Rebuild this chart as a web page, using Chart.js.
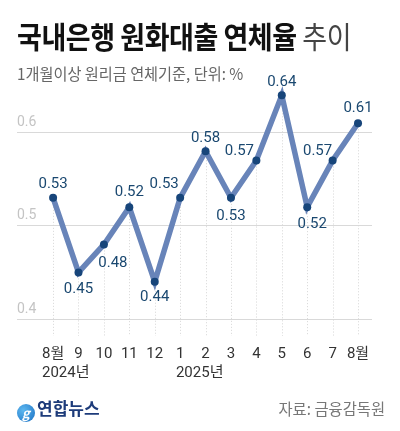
<!DOCTYPE html>
<html><head><meta charset="utf-8">
<script src="https://cdn.jsdelivr.net/npm/chart.js@4"></script>
<style>
html,body{margin:0;padding:0;background:#fff;}
#wrap{position:relative;width:400px;height:431px;overflow:hidden;font-family:"Noto Sans CJK KR",sans-serif;}
#c{position:absolute;left:0;top:0;}
.t{position:absolute;white-space:nowrap;line-height:1;transform-origin:left top;}
#title{left:17px;top:20px;font-size:30px;font-weight:700;color:#111;transform:scaleX(0.9);letter-spacing:-0.5px;}
#title span{font-weight:400;color:#444;}
#sub{left:17px;top:65px;font-size:16px;color:#666;transform:scaleX(0.95);}
#src{right:15px;top:400px;font-size:16px;color:#777;transform-origin:right top;transform:scaleX(0.96);}
#logo{left:17px;top:399px;font-size:17px;font-weight:700;color:#1d3b7a;}
#logo i{display:inline-block;width:18px;height:18px;border-radius:50%;background:radial-gradient(circle at 35% 35%,#5db8f0,#1a6fc2);vertical-align:-3px;margin-right:2px;color:#fff;font-style:italic;font-size:13px;text-align:center;line-height:18px;}
</style></head>
<body><div id="wrap">
<canvas id="c" width="400" height="431"></canvas>
<div class="t" id="title">국내은행 원화대출 연체율 <span>추이</span></div>
<div class="t" id="sub">1개월이상 원리금 연체기준, 단위: %</div>
<div class="t" id="logo"><i>g</i>연합뉴스</div>
<div class="t" id="src">자료: 금융감독원</div>
</div>
<script>
const months = ['8월','9','10','11','12','1','2','3','4','5','6','7','8월'];
const years = ['2024년','','','','','2025년','','','','','','',''];
const rates = [0.53,0.45,0.48,0.52,0.44,0.53,0.58,0.53,0.57,0.64,0.52,0.57,0.61];
const yTicks = [0.4,0.5,0.6];
const labelOffsets = [[0,-14],[0,17],[9,19],[0,-15],[0,16],[-16,-14],[0,-13],[0,18],[-17,-9],[0,-13],[5,17],[-15,-9],[0,-15]];

const lineColor = '#6884b9';
const pointColor = '#17457a';
const labelColor = '#1a4870';

const dropLines = {
  id:'dropLines',
  beforeDatasetsDraw(chart){
    const {ctx, scales:{x,y}, chartArea} = chart;
    ctx.save();
    ctx.strokeStyle = '#d6d6d6';
    ctx.lineWidth = 1;
    ctx.setLineDash([1,2]);
    rates.forEach((v,i)=>{
      const px = Math.round(x.getPixelForValue(i))+0.5;
      ctx.beginPath();
      ctx.moveTo(px, y.getPixelForValue(v));
      ctx.lineTo(px, chartArea.bottom+17);
      ctx.stroke();
    });
    ctx.restore();
  }
};
const valueLabels = {
  id:'valueLabels',
  afterDatasetsDraw(chart){
    const {ctx, scales:{x,y}} = chart;
    ctx.save();
    ctx.font = '15px Roboto';
    ctx.fillStyle = labelColor;
    ctx.textAlign = 'center';
    ctx.textBaseline = 'middle';
    rates.forEach((v,i)=>{
      const [dx,dy] = labelOffsets[i];
      ctx.fillText(v.toFixed(2), x.getPixelForValue(i)+dx, y.getPixelForValue(v)+dy);
    });
    ctx.restore();
  }
};
const yearLabels = {
  id:'yearLabels',
  afterDraw(chart){
    const {ctx, scales:{x}, chartArea} = chart;
    ctx.save();
    ctx.font = '15px Roboto, "Noto Sans CJK KR"';
    ctx.fillStyle = '#333';
    ctx.textAlign = 'left';
    ctx.textBaseline = 'middle';
    years.forEach((yl,i)=>{
      if(!yl) return;
      const w = ctx.measureText(months[i]).width;
      ctx.fillText(yl, x.getPixelForValue(i)-w/2, chartArea.bottom+54);
    });
    ctx.restore();
  }
};

new Chart(document.getElementById('c'), {
  type:'line',
  data:{datasets:[{
    data: rates.map((v,i)=>({x:i,y:v})),
    borderColor: lineColor,
    borderWidth: 5.5,
    pointRadius: 4,
    pointBackgroundColor: pointColor,
    pointBorderWidth: 0,
    tension: 0,
    borderJoinStyle:'miter'
  }]},
  options:{
    responsive:false,
    animation:false,
    events:[],
    layout:{padding:{left:17,right:28,top:86,bottom:0}},
    plugins:{legend:{display:false},tooltip:{enabled:false}},
    scales:{
      x:{
        type:'linear',
        min:-1.42,
        max:12.55,
        grid:{display:false,drawTicks:false},
        border:{display:false},
        afterFit(s){ s.height = 112; },
        afterBuildTicks(s){ s.ticks = months.map((m,i)=>({value:i})); },
        ticks:{
          autoSkip:false,
          maxRotation:0,
          padding:26,
          color:'#333',
          font:{family:'Roboto, "Noto Sans CJK KR"',size:15},
          callback:(v)=>months[v]
        }
      },
      y:{
        min:0.4,
        max:0.65,
        afterFit(s){ s.width = 0; },
        afterBuildTicks(s){ s.ticks = yTicks.map(v=>({value:v})); },
        grid:{color:'#d9d9d9',lineWidth:1,drawTicks:false},
        border:{display:false},
        ticks:{
          mirror:true,
          padding:0,
          labelOffset:-10,
          color:'#c4c4c4',
          font:{family:'Roboto',size:14},
          callback:(v)=>String(v)
        }
      }
    }
  },
  plugins:[dropLines,valueLabels,yearLabels]
});
</script>
</body></html>
